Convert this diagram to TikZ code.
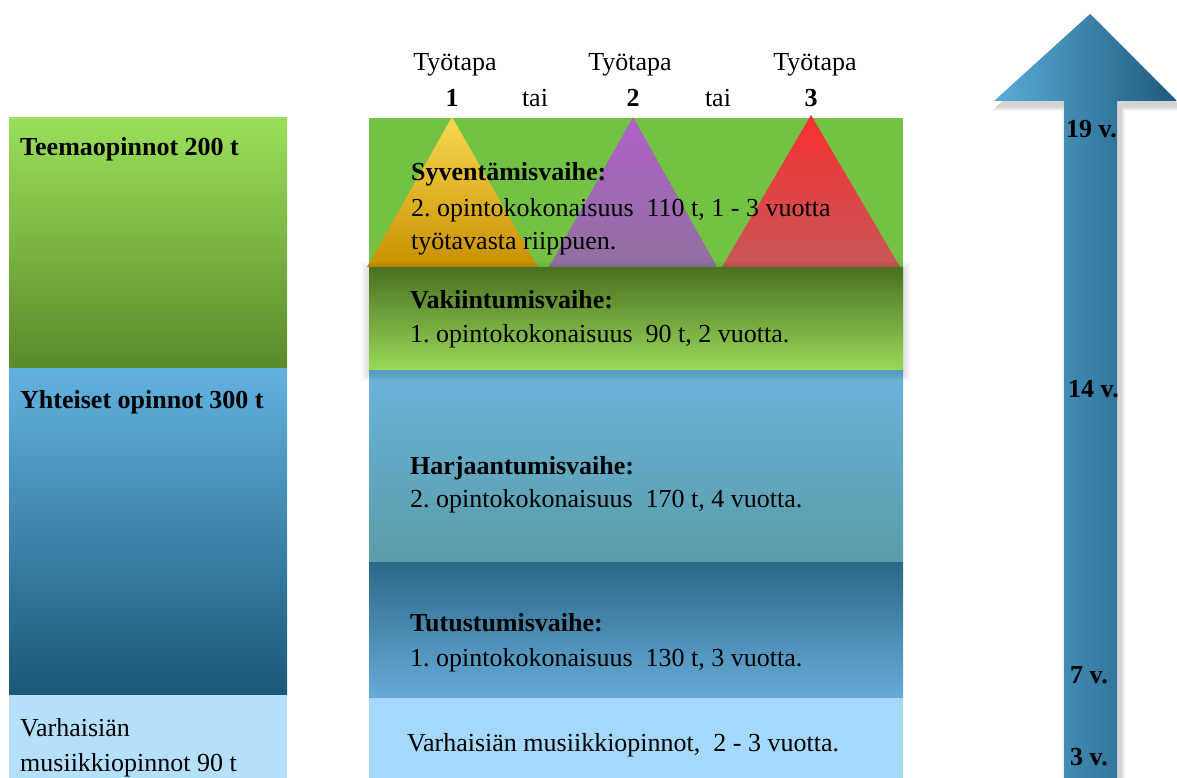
\documentclass[tikz,border=0pt]{standalone}
\usepackage{fontspec}
\setmainfont{Liberation Serif}
\frenchspacing
\definecolor{lgTop}{HTML}{9AE05A}
\definecolor{lgBot}{HTML}{5A8A2A}
\definecolor{lbTop}{HTML}{62B2E0}
\definecolor{lbBot}{HTML}{1A5878}
\definecolor{lightb}{HTML}{B4E0FC}
\definecolor{midgreen}{HTML}{74C244}
\definecolor{vkTop}{HTML}{4A7020}
\definecolor{vkBot}{HTML}{98D858}
\definecolor{hjTop}{HTML}{6AB4DC}
\definecolor{hjBot}{HTML}{5A9CA8}
\definecolor{ttTop}{HTML}{2C6888}
\definecolor{ttBot}{HTML}{66ACD8}
\definecolor{vhBlue}{HTML}{A4D8FC}
\definecolor{t1Top}{HTML}{F8D850}
\definecolor{t1Bot}{HTML}{C89000}
\definecolor{t2Top}{HTML}{B060C8}
\definecolor{t2Bot}{HTML}{9070A0}
\definecolor{t3Top}{HTML}{F83030}
\definecolor{t3Bot}{HTML}{C85858}
\definecolor{arL}{HTML}{5AACD8}
\definecolor{arR}{HTML}{1E5A7C}
\begin{document}
\begin{tikzpicture}[x=1pt,y=-1pt,
  txt/.style={anchor=base west, inner sep=0pt, font=\fontsize{26}{30}\selectfont},
  btxt/.style={txt, font=\fontsize{26}{30}\selectfont\bfseries},
  ctxt/.style={anchor=base, inner sep=0pt, font=\fontsize{26}{30}\selectfont},
  cbtxt/.style={ctxt, font=\fontsize{26}{30}\selectfont\bfseries},
  agetxt/.style={anchor=base west, inner sep=0pt, font=\fontsize{26}{30}\selectfont\bfseries}]
\useasboundingbox (0,0) rectangle (1177,778);
\fill[white] (0,0) rectangle (1177,778);

% left column
\shade[top color=lgTop, bottom color=lgBot] (9,118) rectangle (287,368);
\shade[top color=lbTop, bottom color=lbBot] (9,368) rectangle (287,695);
\fill[lightb] (9,695) rectangle (287,778);

% middle column
\fill[midgreen] (369,118) rectangle (903,267);
\shade[top color=t1Top, bottom color=t1Bot] (452,117) -- (538,267) -- (367,267) -- cycle;
\shade[top color=t2Top, bottom color=t2Bot] (633,117) -- (717,267) -- (549,267) -- cycle;
\shade[top color=t3Top, bottom color=t3Bot] (811,115) -- (900,267) -- (722,267) -- cycle;
\shade[top color=hjTop, bottom color=hjBot] (369,369) rectangle (903,562);
\shade[top color=ttTop, bottom color=ttBot] (369,562) rectangle (903,698);
\fill[vhBlue] (369,698) rectangle (903,778);
% soft shadow of the Vakiintumisvaihe band
\foreach \i in {1,...,8} {
  \fill[black, opacity=0.015] (369-\i,267-\i+3) rectangle (903+\i,369+\i+4);
}
\shade[top color=vkTop, bottom color=vkBot] (369,267) rectangle (903,369);

% arrow with shadow
\foreach \i in {1,...,5} {
  \fill[black, opacity=0.035] (1064+3-\i,778) -- (1064+3-\i,101+5+\i) -- (994+3-\i,101+5+\i) -- (1090+3,14+5-\i) -- (1177+3+\i,101+5+\i) -- (1117+3+\i,101+5+\i) -- (1117+3+\i,778) -- cycle;
}
\shade[left color=arL, right color=arR] (1064,778) -- (1064,101) -- (994,101) -- (1090,14) -- (1177,101) -- (1117,101) -- (1117,778) -- cycle;

% header
\node[ctxt] (ty1) at (455,71) {Työtapa};
\node[ctxt] (ty2) at (630,71) {Työtapa};
\node[ctxt] (ty3) at (815,71) {Työtapa};
\node[cbtxt] (n1) at (452,107) {1};
\node[ctxt] (tai1) at (535,107) {tai};
\node[cbtxt] (n2) at (633,107) {2};
\node[ctxt] (tai2) at (718,107) {tai};
\node[cbtxt] (n3) at (811,107) {3};

% left texts
\node[btxt] (teema) at (20,156) {Teemaopinnot 200 t};
\node[btxt] (yhteiset) at (20,408) {Yhteiset opinnot 300 t};
\node[txt] (varh1) at (20,736) {Varhaisiän};
\node[txt] (varh2) at (20,771) {musiikkiopinnot 90 t};

% middle texts
\node[btxt] (syv) at (411,181) {Syventämisvaihe:};
\node[txt] (syv2) at (411,216) {2. opintokokonaisuus\ \ 110 t, 1 - 3 vuotta};
\node[txt] (syv3) at (411,249) {työtavasta riippuen.};
\node[btxt] (vak) at (410,308) {Vakiintumisvaihe:};
\node[txt] (vak2) at (410,342) {1. opintokokonaisuus\ \ 90 t, 2 vuotta.};
\node[btxt] (har) at (410,474) {Harjaantumisvaihe:};
\node[txt] (har2) at (410,507) {2. opintokokonaisuus\ \ 170 t, 4 vuotta.};
\node[btxt] (tut) at (410,631) {Tutustumisvaihe:};
\node[txt] (tut2) at (410,666) {1. opintokokonaisuus\ \ 130 t, 3 vuotta.};
\node[txt] (vhm) at (407,751) {Varhaisiän musiikkiopinnot,\ \ 2 - 3 vuotta.};

% ages
\node[agetxt] (a19) at (1066,138) {19 v.};
\node[agetxt] (a14) at (1068,397) {14 v.};
\node[agetxt] (a7) at (1070,683) {7 v.};
\node[agetxt] (a3) at (1070,765) {3 v.};
\end{tikzpicture}
\end{document}
